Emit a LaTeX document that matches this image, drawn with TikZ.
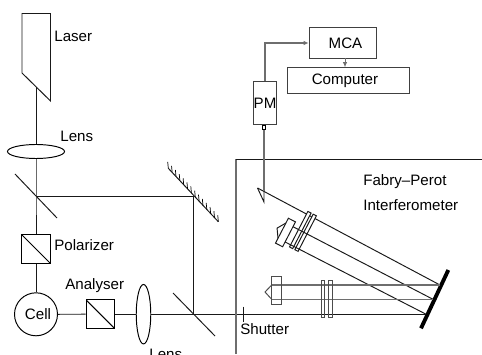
\documentclass[tikz,border=0pt]{standalone}
\usepackage{fontspec}
\setmainfont{Liberation Sans}
\usetikzlibrary{arrows.meta, positioning, calc, shapes.geometric}
\definecolor{beamgray}{RGB}{110, 110, 110}
\tikzset{
    optic/.style={line width=0.55pt, black!90},
    thick beam/.style={line width=0.85pt, beamgray},
    boxed/.style={draw, line width=0.55pt, black!75, text=black, minimum width=#1, inner sep=0pt},
    cube/.style={draw, line width=0.55pt, inner sep=0pt, minimum width=0.57cm, minimum height=0.57cm,
        path picture={\draw[line width=0.55pt] (path picture bounding box.north west) -- (path picture bounding box.south east);}},
    lensshape/.style={draw, ellipse, line width=0.55pt, inner sep=0pt},
    label text/.style={anchor=base west, inner sep=0pt},
    small tip/.style={-{Latex[length=3pt, width=2.6pt]}},
}

\begin{document}
\begin{tikzpicture}[x=0.02cm, y=-0.02cm, every node/.style={font=\fontsize{8.6}{10}\selectfont}]
    \useasboundingbox (0, 0) rectangle (482, 354);

    % Laser
    \coordinate (laserout) at (36, 87);
    \draw[optic] (22, 13.5) -- (50.5, 13.5) -- (50.5, 101) -- (22, 73) -- cycle;
    \node[label text] (laserlabel) at (54, 41.5) {Laser};

    % left arm
    \node[lensshape, minimum width=1.14cm, minimum height=0.28cm] (lensA) at (36, 151.5) {};
    \node[label text] (lensAlabel) at (60, 141.5) {Lens};
    \coordinate (splitA) at (36, 196.5);
    \node[cube] (polarizer) at (36, 249) {};
    \node[label text] (polarizerlabel) at (54, 250) {Polarizer};
    \node[draw, circle, line width=0.55pt, minimum size=0.86cm, inner sep=0pt] (cell) at (36, 314.3) {};
    \node[inner sep=0pt] (celllabel) at (38, 314.5) {Cell};
    \draw[optic] (laserout) -- (lensA);
    \draw[optic] (lensA) -- (splitA) -- (polarizer);
    \draw[optic] (polarizer) -- (cell);
    \draw[optic] (15, 174) -- (57, 218);

    % lower arm
    \node[cube] (analyser) at (100.3, 314.2) {};
    \node[label text] (analyserlabel) at (65, 289) {Analyser};
    \node[lensshape, minimum width=0.29cm, minimum height=1.19cm] (lensB) at (143.5, 314.2) {};
    \node[label text] (lensBlabel) at (149, 359) {Lens};
    \coordinate (splitB) at (193.5, 314.2);
    \coordinate (hitthree) at (426, 314.2);
    \draw[optic] (cell) -- (analyser);
    \draw[optic] (analyser) -- (lensB);
    \draw[optic] (lensB) -- (splitB) -- (hitthree);
    \draw[optic] (173, 293) -- (215, 336);

    % hatched mirror
    \coordinate (turn) at (193.5, 196.5);
    \coordinate (hatchA) at (168.3, 168.3);
    \coordinate (hatchB) at (218.3, 221.7);
    \draw[optic] (splitA) -- (turn) -- (splitB);
    \draw[optic] (hatchA) -- (hatchB);
    \foreach \t in {0, 0.077, ..., 1.01} {
        \draw[line width=0.4pt] ($(hatchA)!\t!(hatchB)$) -- ++(-0.6, -6.5);
    }

    % Shutter
    \coordinate (shutterA) at (243, 306.7);
    \coordinate (shutterB) at (243, 321.7);
    \draw[optic] (shutterA) -- (shutterB);
    \node[label text] (shutterlabel) at (240, 334) {Shutter};

    % Interferometer
    \draw[thick beam] (236, 354) -- (236, 159.5);
    \draw[optic] (236, 159.5) -- (482, 159.5);
    \node[label text] (fabrylabel) at (363, 186) {Fabry--Perot};
    \node[label text] (interlabel) at (363, 210) {Interferometer};
    \coordinate (hitone) at (440, 285);
    \coordinate (hittwo) at (433, 299.3);
    \draw[line width=2.2pt] (448.3, 270) -- (421, 328.3);

    % tilted plates
    \coordinate (fold) at (257.5, 188);
    \draw[optic] (fold) -- (264, 202) -- (264, 191);
    \draw[optic] (fold) -- (hitone);
    \begin{scope}[shift={(285.5, 232.5)}, rotate=-27.3]
        \draw[optic] (-4, -14) rectangle (4, 14);
        \draw[optic] (-4, -8.6) -- (-9.5, 0) -- (-4, 8.6);
        \foreach \p in {12, 18} {
            \draw[optic, fill=white] (\p-1.8, -29) rectangle (\p+1.8, 11);
        }
        \coordinate (tiltA) at (4, -8.6);
        \coordinate (tiltB) at (4, 8.6);
    \end{scope}
    \draw[optic] (tiltA) -- (hittwo);
    \draw[optic] (tiltB) -- (hitthree);

    % flat plates
    \coordinate (flatA) at (271.7, 285);
    \coordinate (flatB) at (271.7, 299.3);
    \draw[thick beam] (flatA) -- (hitone);
    \draw[thick beam] (flatB) -- (hittwo);
    \draw[optic, black!70] (271.7, 276.7) rectangle (281, 304.3);
    \draw[optic, black!70] (flatA) -- (265, 292) -- (flatB);
    \foreach \p in {321, 328.7} {
        \draw[optic, black!70] (\p, 280) rectangle (\p+3.7, 317.3);
    }

    % detector
    \node[boxed=0.47cm, minimum height=0.875cm] (pm) at (265, 103) {PM};
    \node[draw, line width=0.5pt, minimum width=0.065cm, minimum height=0.085cm, inner sep=0pt, anchor=north] (pinhole) at (264, 125) {};
    \node[boxed=1.35cm, minimum height=0.62cm] (mca) at (343, 43) {};
    \node[inner sep=0pt] (mcalabel) at (345.5, 43) {MCA};
    \node[boxed=2.44cm, minimum height=0.52cm] (computer) at (348, 80.3) {};
    \node[inner sep=0pt] (computerlabel) at (345, 80.3) {Computer};
    \draw[thick beam] (pinhole) -- (264, 191);
    \draw[thick beam, small tip] (pm.north) |- (mca.west);
    \draw[line width=0.5pt, beamgray, small tip] (345, 58.3) -- (345, 67.3);
\end{tikzpicture}
\end{document}
